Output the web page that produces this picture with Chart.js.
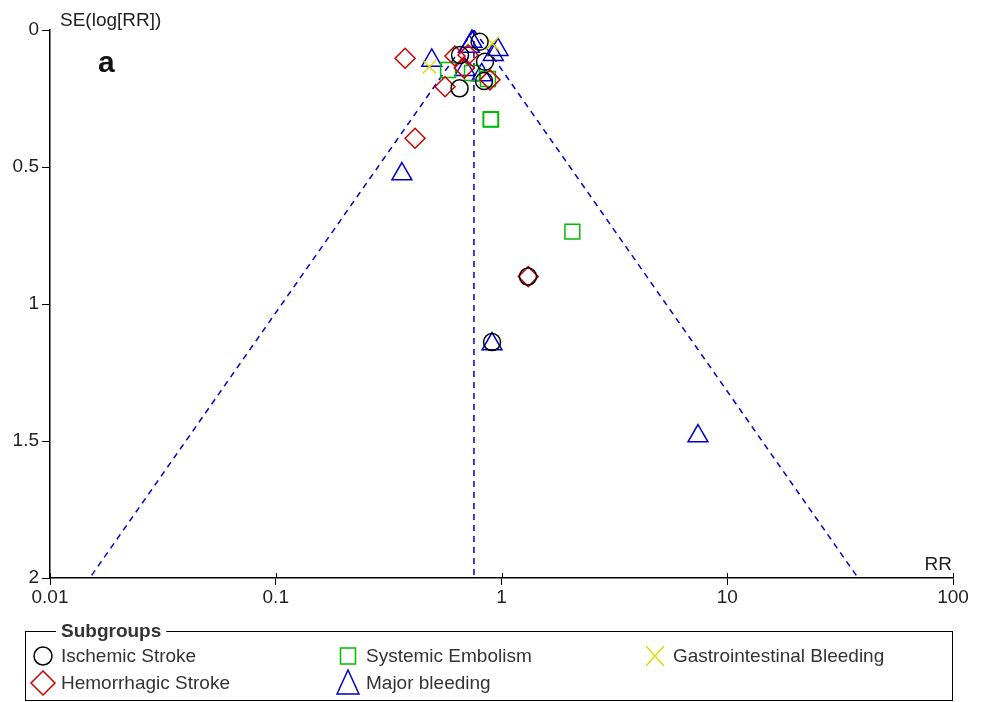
<!DOCTYPE html>
<html>
<head>
<meta charset="utf-8">
<script src="https://cdn.jsdelivr.net/npm/chart.js@4.4.0/dist/chart.umd.min.js"></script>
<style>
    html, body { margin: 0; padding: 0; background: #fff; }
</style>
</head>
<body>
<canvas id="funnelChart" width="984" height="702"></canvas>
<script>
// Values (RR on a log axis, SE(log[RR]) on a reversed axis)
const ischemicRR = [0.80, 0.655, 0.845, 0.837, 0.652, 0.908, 1.31];
const ischemicSE = [0.043, 0.091, 0.116, 0.186, 0.213, 1.139, 0.900];

const hemorrhagicRR = [0.374, 0.414, 0.622, 0.711, 0.684, 0.562, 0.889, 1.314];
const hemorrhagicSE = [0.103, 0.395, 0.095, 0.091, 0.139, 0.207, 0.182, 0.900];

const embolismRR = [0.58, 0.74, 0.871, 0.899, 0.895, 2.06];
const embolismSE = [0.146, 0.157, 0.179, 0.325, 0.327, 0.736];

const giBleedingRR = [0.479, 0.91];
const giBleedingSE = [0.134, 0.049];

const majorBleedingRR = [0.491, 0.362, 0.74, 0.72, 0.965, 0.92, 0.689, 0.817, 0.908, 7.42];
const majorBleedingSE = [0.111, 0.526, 0.042, 0.06, 0.072, 0.09, 0.145, 0.164, 1.146, 1.482];

// Funnel: pooled estimate and the 95% limits at SE = 2
const funnelSE = [0, 2];
const pooledRR = [0.755, 0.755];
const funnelLeftRR = [0.755, 0.0150];
const funnelRightRR = [0.755, 38.0];

const xTicks = [0.01, 0.1, 1, 10, 100];
const yTicks = [0, 0.5, 1, 1.5, 2];

const FONT = "'Liberation Sans', Arial, sans-serif";
Chart.defaults.font.family = FONT;

// Build {x, y} points from a pair of arrays
function toPoints(xs, ys) {
    return xs.map((x, i) => ({ x: x, y: ys[i] }));
}

function markerSet(label, xs, ys, style, color, radius) {
    return {
        label: label,
        data: toPoints(xs, ys),
        pointStyle: style,
        pointRadius: radius,
        pointHoverRadius: radius,
        pointBorderColor: color,
        pointBackgroundColor: 'rgba(0,0,0,0)',
        pointBorderWidth: 1.5,
        showLine: false,
        clip: false,
        order: 1
    };
}

function funnelLine(xs) {
    return {
        label: 'funnel',
        data: toPoints(xs, funnelSE),
        showLine: true,
        borderColor: '#0000CC',
        borderWidth: 1.5,
        borderDash: [6, 5],
        pointRadius: 0,
        fill: false,
        order: 5
    };
}

// Draw one legend symbol by hand
function drawSymbol(ctx, style, x, y, color) {
    ctx.save();
    ctx.strokeStyle = color;
    ctx.lineWidth = 1.5;
    ctx.beginPath();
    if (style === 'circle') {
        ctx.arc(x, y, 9, 0, Math.PI * 2);
    } else if (style === 'rectRot') {
        ctx.moveTo(x, y - 12);
        ctx.lineTo(x + 12, y);
        ctx.lineTo(x, y + 12);
        ctx.lineTo(x - 12, y);
        ctx.closePath();
    } else if (style === 'rect') {
        ctx.rect(x - 7.5, y - 8, 15, 16);
    } else if (style === 'triangle') {
        ctx.moveTo(x, y - 13);
        ctx.lineTo(x + 11, y + 11);
        ctx.lineTo(x - 11, y + 11);
        ctx.closePath();
    } else if (style === 'crossRot') {
        ctx.moveTo(x - 9, y - 10);
        ctx.lineTo(x + 9, y + 10);
        ctx.moveTo(x + 9, y - 10);
        ctx.lineTo(x - 9, y + 10);
    }
    ctx.stroke();
    ctx.restore();
}

const legendItems = [
    { text: 'Ischemic Stroke', style: 'circle', color: '#000000', x: 43, y: 656 },
    { text: 'Hemorrhagic Stroke', style: 'rectRot', color: '#CC0000', x: 43, y: 683 },
    { text: 'Systemic Embolism', style: 'rect', color: '#00BB00', x: 348, y: 656 },
    { text: 'Major bleeding', style: 'triangle', color: '#0000CC', x: 348, y: 683 },
    { text: 'Gastrointestinal Bleeding', style: 'crossRot', color: '#DDDD00', x: 655, y: 656 }
];

const annotationsPlugin = {
    id: 'annotations',
    afterDraw(chart) {
        const ctx = chart.ctx;
        const xs = chart.scales.x;
        const area = chart.chartArea;

        // upper half of the x tick marks (they cross the axis)
        ctx.save();
        ctx.strokeStyle = '#000';
        ctx.lineWidth = 1;
        xTicks.forEach(v => {
            const px = Math.round(xs.getPixelForValue(v)) + 0.5;
            ctx.beginPath();
            ctx.moveTo(px, area.bottom - 5);
            ctx.lineTo(px, area.bottom);
            ctx.stroke();
        });

        // axis titles and panel letter
        ctx.fillStyle = '#222';
        ctx.font = '19px ' + FONT;
        ctx.textBaseline = 'alphabetic';
        ctx.textAlign = 'left';
        ctx.fillText('SE(log[RR])', 60, 26);
        ctx.textAlign = 'right';
        ctx.fillText('RR', 952, 570);
        ctx.textAlign = 'left';
        ctx.font = 'bold 30px ' + FONT;
        ctx.fillStyle = '#111';
        ctx.fillText('a', 98, 72);

        // legend box
        ctx.strokeStyle = '#000';
        ctx.lineWidth = 1;
        ctx.strokeRect(25.5, 631.5, 927, 69);
        ctx.font = 'bold 19px ' + FONT;
        const titleW = ctx.measureText('Subgroups').width;
        ctx.fillStyle = '#fff';
        ctx.fillRect(56, 628, titleW + 10, 7);
        ctx.fillStyle = '#333';
        ctx.textBaseline = 'middle';
        ctx.fillText('Subgroups', 61, 632);

        ctx.font = '19px ' + FONT;
        legendItems.forEach(item => {
            drawSymbol(ctx, item.style, item.x, item.y, item.color);
            ctx.fillStyle = '#333';
            ctx.fillText(item.text, item.x + 18, item.y + 1);
        });
        ctx.restore();
    }
};

const ctx = document.getElementById('funnelChart').getContext('2d');
new Chart(ctx, {
    type: 'scatter',
    data: {
        datasets: [
            markerSet('Ischemic Stroke', ischemicRR, ischemicSE, 'circle', '#000000', 8.5),
            markerSet('Hemorrhagic Stroke', hemorrhagicRR, hemorrhagicSE, 'rectRot', '#CC0000', 10),
            markerSet('Systemic Embolism', embolismRR, embolismSE, 'rect', '#00BB00', 10.5),
            markerSet('Gastrointestinal Bleeding', giBleedingRR, giBleedingSE, 'crossRot', '#DDDD00', 9.5),
            markerSet('Major bleeding', majorBleedingRR, majorBleedingSE, 'triangle', '#0000CC', 11.5),
            funnelLine(pooledRR),
            funnelLine(funnelLeftRR),
            funnelLine(funnelRightRR)
        ]
    },
    options: {
        responsive: false,
        animation: false,
        layout: { padding: { left: 0, right: 31, top: 30, bottom: 94 } },
        plugins: {
            legend: { display: false },
            tooltip: { enabled: false }
        },
        scales: {
            x: {
                type: 'logarithmic',
                min: 0.01,
                max: 100,
                afterBuildTicks: axis => { axis.ticks = xTicks.map(v => ({ value: v })); },
                afterFit: axis => { axis.height = 30; },
                ticks: {
                    callback: v => String(v),
                    color: '#222',
                    font: { size: 19 },
                    padding: 1,
                    maxRotation: 0,
                    autoSkip: false
                },
                grid: { drawOnChartArea: false, drawTicks: true, tickLength: 7, color: '#000' },
                border: { display: true, color: '#000', width: 1.5 }
            },
            y: {
                type: 'linear',
                reverse: true,
                min: 0,
                max: 2,
                afterBuildTicks: axis => { axis.ticks = yTicks.map(v => ({ value: v })); },
                afterFit: axis => { axis.width = 50; },
                ticks: {
                    callback: v => String(v),
                    color: '#222',
                    font: { size: 19 },
                    padding: 3,
                    autoSkip: false
                },
                grid: { drawOnChartArea: false, drawTicks: true, tickLength: 8, color: '#000' },
                border: { display: true, color: '#000', width: 1.5 }
            }
        }
    },
    plugins: [annotationsPlugin]
});
</script>
</body>
</html>
